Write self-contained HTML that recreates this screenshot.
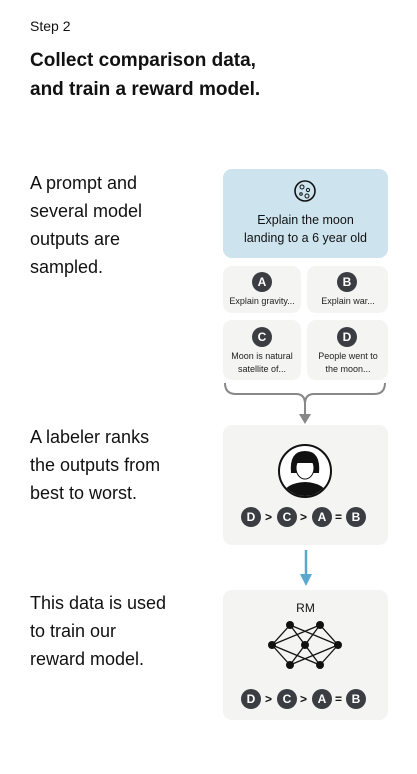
<!DOCTYPE html>
<html><head><style>
body{margin:0;width:417px;height:774px;background:#fff;font-family:"Liberation Sans",sans-serif;color:#111;position:relative;overflow:hidden}
.a{position:absolute}
.t{font-size:18px;line-height:28px;left:30px}
.card{position:absolute;background:#f4f4f3;border-radius:9px}
.c{position:absolute;width:20px;height:20px;border-radius:50%;background:#3b3d42;color:#fff;font-size:12px;font-weight:bold;text-align:center;line-height:20px}
.sm{position:absolute;font-size:9px;text-align:center;width:78px;line-height:13px;color:#222}
.op{position:absolute;font-size:12px;font-weight:bold;line-height:20px}
</style></head><body>
<div class="a" style="left:30px;top:18px;font-size:14px">Step 2</div>
<div class="a" style="left:30px;top:46px;font-size:19px;font-weight:bold;line-height:29px">Collect comparison data,<br>and train a reward model.</div>
<div class="a t" style="top:169px">A prompt and<br>several model<br>outputs are<br>sampled.</div>
<div class="a t" style="top:423px">A labeler ranks<br>the outputs from<br>best to worst.</div>
<div class="a t" style="top:589px">This data is used<br>to train our<br>reward model.</div>

<div class="card" style="left:223px;top:169px;width:165px;height:89px;background:#cde4ee"></div>
<svg class="a" style="left:293px;top:179px" width="24" height="24"><circle cx="12" cy="12" r="10" fill="none" stroke="#111" stroke-width="1.6"/><circle cx="9" cy="8" r="2" fill="none" stroke="#111"/><circle cx="15" cy="11" r="1.6" fill="none" stroke="#111"/><circle cx="8" cy="15" r="1.3" fill="none" stroke="#111"/><circle cx="14" cy="17" r="2" fill="none" stroke="#111"/></svg>
<div class="a" style="left:223px;top:211px;width:165px;text-align:center;font-size:12.5px;line-height:18px">Explain the moon<br>landing to a 6 year old</div>

<div class="card" style="left:223px;top:266px;width:78px;height:47px"></div>
<div class="card" style="left:307px;top:266px;width:81px;height:47px"></div>
<div class="card" style="left:223px;top:320px;width:78px;height:60px"></div>
<div class="card" style="left:307px;top:320px;width:81px;height:60px"></div>
<div class="c" style="left:252px;top:272px">A</div>
<div class="c" style="left:337px;top:272px">B</div>
<div class="c" style="left:252px;top:327px">C</div>
<div class="c" style="left:337px;top:327px">D</div>
<div class="sm" style="left:223px;top:295px">Explain gravity...</div>
<div class="sm" style="left:309px;top:295px">Explain war...</div>
<div class="sm" style="left:223px;top:350px">Moon is natural<br>satellite of...</div>
<div class="sm" style="left:309px;top:350px">People went to<br>the moon...</div>

<svg class="a" style="left:222px;top:380px" width="168" height="46"><path d="M3 3 Q3 14 14 14 L74 14 Q83 14 83 24 Q83 14 92 14 L152 14 Q163 14 163 3" fill="none" stroke="#888" stroke-width="2"/><line x1="83" y1="22" x2="83" y2="36" stroke="#888" stroke-width="2"/><path d="M77 34 L89 34 L83 44Z" fill="#888"/></svg>

<div class="card" style="left:223px;top:425px;width:165px;height:120px"></div>
<svg class="a" style="left:277px;top:443px" width="56" height="56"><circle cx="28" cy="28" r="26" fill="#fff" stroke="#111" stroke-width="2"/><clipPath id="k"><circle cx="28" cy="28" r="25"/></clipPath><g clip-path="url(#k)"><path d="M14 30 Q12 8 28 8 Q44 8 42 30 Z" fill="#111"/><ellipse cx="28" cy="25" rx="9" ry="11" fill="#fff" stroke="#111"/><path d="M19 20 Q20 12 28 12 Q36 12 37 20 Z" fill="#111"/><path d="M4 56 Q6 40 28 39 Q50 40 52 56Z" fill="#111"/></g></svg>
<div class="c" style="left:241px;top:507px">D</div><div class="op" style="left:265px;top:507px">&gt;</div>
<div class="c" style="left:277px;top:507px">C</div><div class="op" style="left:300px;top:507px">&gt;</div>
<div class="c" style="left:312px;top:507px">A</div><div class="op" style="left:335px;top:507px">=</div>
<div class="c" style="left:346px;top:507px">B</div>

<svg class="a" style="left:298px;top:548px" width="16" height="40"><line x1="8" y1="2" x2="8" y2="28" stroke="#5aa8d0" stroke-width="2.5"/><path d="M2 26 L14 26 L8 38Z" fill="#5aa8d0"/></svg>

<div class="card" style="left:223px;top:590px;width:165px;height:130px"></div>
<div class="a" style="left:223px;top:601px;width:165px;text-align:center;font-size:12px">RM</div>
<svg class="a" style="left:268px;top:620px" width="76" height="54"><g stroke="#111" stroke-width="1.3" fill="none"><path d="M22 5 L4 25 L22 45 M52 5 L70 25 L52 45 M22 5 L37 25 L52 45 M52 5 L37 25 L22 45 M22 5 L70 25 M52 5 L4 25 M22 45 L70 25 M52 45 L4 25 M22 5 L52 45 M52 5 L22 45"/></g><g fill="#111"><circle cx="22" cy="5" r="4"/><circle cx="52" cy="5" r="4"/><circle cx="4" cy="25" r="4"/><circle cx="37" cy="25" r="4"/><circle cx="70" cy="25" r="4"/><circle cx="22" cy="45" r="4"/><circle cx="52" cy="45" r="4"/></g></svg>
<div class="c" style="left:241px;top:689px">D</div><div class="op" style="left:265px;top:689px">&gt;</div>
<div class="c" style="left:277px;top:689px">C</div><div class="op" style="left:300px;top:689px">&gt;</div>
<div class="c" style="left:312px;top:689px">A</div><div class="op" style="left:335px;top:689px">=</div>
<div class="c" style="left:346px;top:689px">B</div>
</body></html>
